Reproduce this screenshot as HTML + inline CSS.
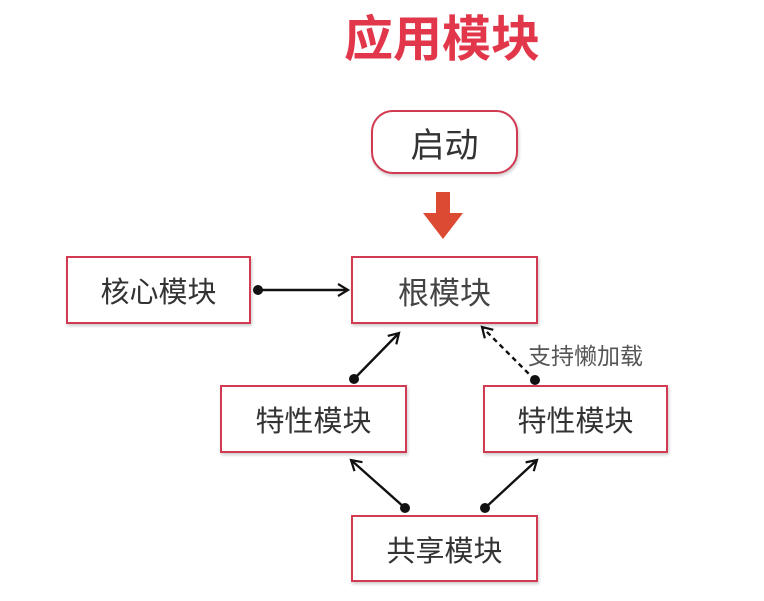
<!DOCTYPE html>
<html><head><meta charset="utf-8"><style>
body{margin:0;width:764px;height:601px;background:#fff;position:relative;overflow:hidden;font-family:"Liberation Sans","Noto Sans CJK SC",sans-serif}
.t{position:absolute;left:0;width:884px;top:0px;text-align:center;font-size:49px;font-weight:bold;color:#e2374a}
.b{position:absolute;box-sizing:border-box;border:2.5px solid #d23a52;background:#fff;display:flex;align-items:center;justify-content:center;font-size:29px;color:#333;box-shadow:1px 2px 3px rgba(0,0,0,.2)}
svg{position:absolute;left:0;top:0}
</style></head><body>
<div class="t">应用模块</div>
<div class="b" style="left:371px;top:110px;width:147px;height:64px;border-radius:22px;font-size:34px">启动</div>
<div class="b" style="left:351px;top:256px;width:187px;height:68px;color:#444;font-size:31px">根模块</div>
<div class="b" style="left:66px;top:256px;width:185px;height:68px">核心模块</div>
<div class="b" style="left:220px;top:385px;width:187px;height:68px">特性模块</div>
<div class="b" style="left:483px;top:385px;width:185px;height:68px">特性模块</div>
<div class="b" style="left:351px;top:515px;width:187px;height:67px">共享模块</div>
<svg width="764" height="601">
<defs><marker id="a" markerWidth="14" markerHeight="14" refX="11" refY="7" orient="auto" markerUnits="userSpaceOnUse"><path d="M1,1 L11,7 L1,13" fill="none" stroke="#111" stroke-width="2.2"/></marker></defs>
<rect x="436" y="192" width="14" height="22" fill="#dd4a33"/>
<polygon points="423,213 463,213 443,239" fill="#dd4a33"/>
<g stroke="#111" stroke-width="2.4" fill="none" marker-end="url(#a)">
<line x1="258" y1="290" x2="348" y2="290"/>
<line x1="354" y1="379" x2="399" y2="333"/>
<line x1="535" y1="380" x2="482" y2="327" stroke-dasharray="5,4"/>
<line x1="405" y1="508" x2="351" y2="460"/>
<line x1="485" y1="508" x2="537" y2="460"/>
</g>
<g fill="#111">
<circle cx="258" cy="290" r="5"/><circle cx="354" cy="379" r="5"/><circle cx="535" cy="380" r="5"/>
<circle cx="405" cy="508" r="5"/><circle cx="485" cy="508" r="5"/>
</g>
<text x="528" y="364" font-size="23" fill="#555" font-family="Liberation Sans,Noto Sans CJK SC,sans-serif">支持懒加载</text>
</svg>
</body></html>
